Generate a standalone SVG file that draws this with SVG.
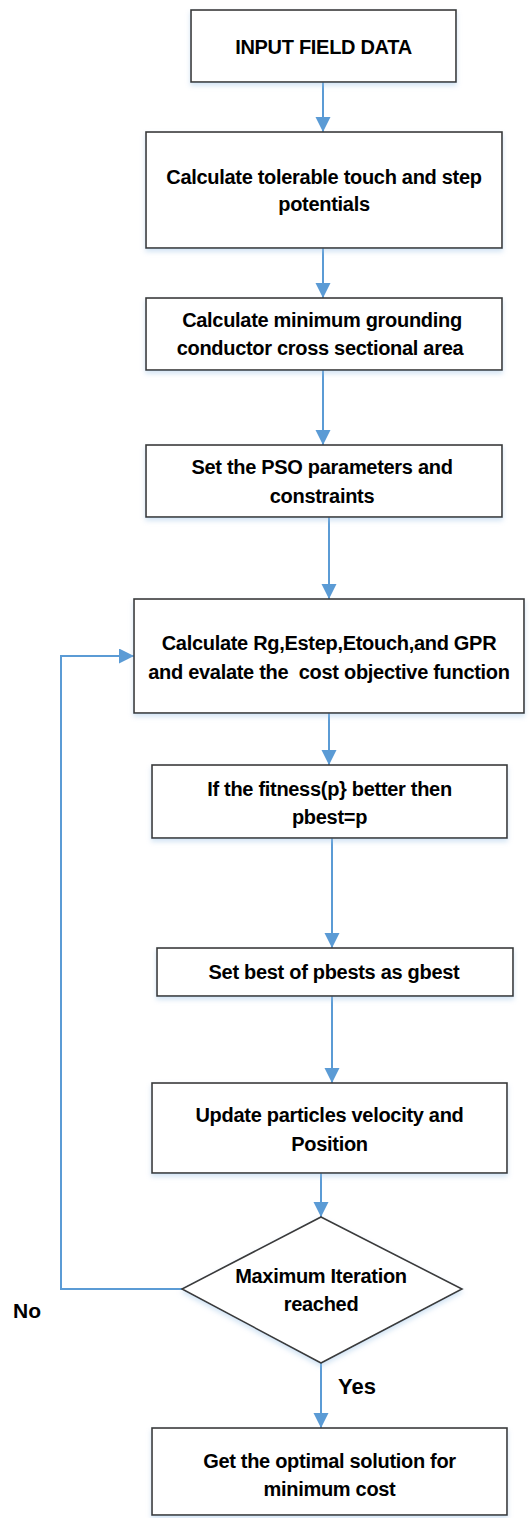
<svg xmlns="http://www.w3.org/2000/svg" width="530" height="1518" viewBox="0 0 530 1518">
<style>
.box{fill:#ffffff;stroke:#3a3a3a;stroke-width:1.6;filter:url(#sh)}
.t{font-family:"Liberation Sans",Arial,sans-serif;font-weight:bold;font-size:20px;fill:#000;text-anchor:middle;letter-spacing:-0.3px}
.lbl{font-family:"Liberation Sans",Arial,sans-serif;font-weight:bold;fill:#000}
.c{fill:none;stroke:#5b9bd5;stroke-width:2}
</style>
<defs>
<filter id="sh" x="-10%" y="-10%" width="120%" height="130%">
<feDropShadow dx="0" dy="3" stdDeviation="2.5" flood-color="#9dc3e6" flood-opacity="0.45"/>
</filter>
<marker id="ah" markerUnits="userSpaceOnUse" markerWidth="16" markerHeight="16" refX="15" refY="7.5" orient="auto">
<path d="M0,0 L15,7.5 L0,15 z" fill="#5b9bd5"/>
</marker>
</defs>
<g id="connectors">
<line class="c" x1="323" y1="82" x2="323" y2="132" marker-end="url(#ah)"/>
<line class="c" x1="323" y1="248" x2="323" y2="298" marker-end="url(#ah)"/>
<line class="c" x1="323" y1="370" x2="323" y2="445" marker-end="url(#ah)"/>
<line class="c" x1="329" y1="517" x2="329" y2="599" marker-end="url(#ah)"/>
<line class="c" x1="329" y1="713" x2="329" y2="765" marker-end="url(#ah)"/>
<line class="c" x1="332" y1="838" x2="332" y2="948" marker-end="url(#ah)"/>
<line class="c" x1="332" y1="996" x2="332" y2="1083" marker-end="url(#ah)"/>
<line class="c" x1="321" y1="1173" x2="321" y2="1217" marker-end="url(#ah)"/>
<line class="c" x1="321" y1="1363" x2="321" y2="1428" marker-end="url(#ah)"/>
<polyline class="c" points="182,1289 61,1289 61,656 134,656" marker-end="url(#ah)"/>
<text class="lbl" x="13" y="1318" font-size="21">No</text>
<text class="lbl" x="338" y="1394" font-size="22">Yes</text>
</g>
<g id="n1">
<rect class="box" x="191" y="10" width="265" height="72"/>
<text class="t" x="323.5" y="54">INPUT FIELD DATA</text>
</g>
<g id="n2">
<rect class="box" x="146" y="132" width="356" height="116"/>
<text class="t" x="324" y="184">Calculate tolerable touch and step</text>
<text class="t" x="324" y="211">potentials</text>
</g>
<g id="n3">
<rect class="box" x="146" y="298" width="356" height="72"/>
<text class="t" x="322" y="327">Calculate minimum grounding</text>
<text class="t" x="320" y="355">conductor cross sectional area</text>
</g>
<g id="n4">
<rect class="box" x="146" y="445" width="356" height="72"/>
<text class="t" x="322" y="474">Set the PSO parameters and</text>
<text class="t" x="322" y="503">constraints</text>
</g>
<g id="n5">
<rect class="box" x="134" y="599" width="390" height="114"/>
<text class="t" x="329" y="650">Calculate Rg,Estep,Etouch,and GPR</text>
<text class="t" x="329" y="679" xml:space="preserve">and evalate the  cost objective function</text>
</g>
<g id="n6">
<rect class="box" x="152" y="765" width="355" height="73"/>
<text class="t" x="329.5" y="796">If the fitness(p} better then</text>
<text class="t" x="329.5" y="824">pbest=p</text>
</g>
<g id="n7">
<rect class="box" x="157" y="948" width="356" height="48"/>
<text class="t" x="334" y="979">Set best of pbests as gbest</text>
</g>
<g id="n8">
<rect class="box" x="152" y="1083" width="355" height="90"/>
<text class="t" x="329.5" y="1122">Update particles velocity and</text>
<text class="t" x="329.5" y="1151">Position</text>
</g>
<g id="n9">
<polygon class="box" points="321,1217 462,1289 321,1363 182,1289"/>
<text class="t" x="321" y="1283">Maximum Iteration</text>
<text class="t" x="321" y="1311">reached</text>
</g>
<g id="n10">
<rect class="box" x="152" y="1428" width="355" height="87"/>
<text class="t" x="329.5" y="1468">Get the optimal solution for</text>
<text class="t" x="329.5" y="1496">minimum cost</text>
</g>
</svg>
